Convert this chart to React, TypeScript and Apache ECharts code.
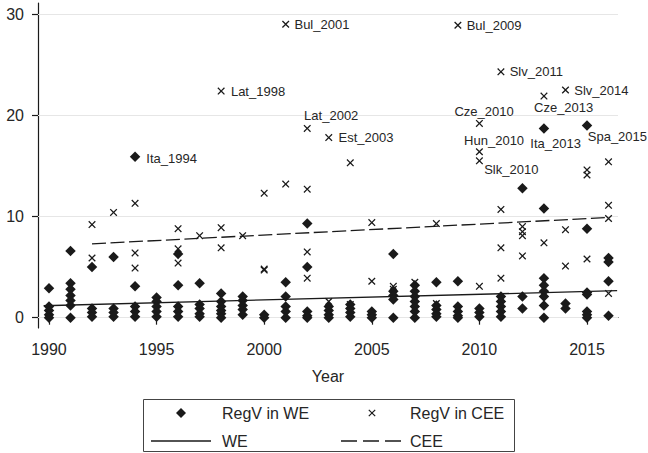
import React, { useEffect, useRef } from "react";
import * as echarts from "echarts";

const FONT = "'Liberation Sans', Arial, Helvetica, sans-serif";
const INK = "#1a1a1a";
const TXT = "#262626";

const years = [
  1990, 1991, 1992, 1993, 1994, 1995, 1996, 1997, 1998, 1999, 2000, 2001, 2002,
  2003, 2004, 2005, 2006, 2007, 2008, 2009, 2010, 2011, 2012, 2013, 2014, 2015, 2016,
];

// RegV in WE, unlabeled points, one list per year
const weValues: number[][] = [
  [2.9, 1.1, 0.7, 0.3, 0.0],
  [6.6, 3.4, 2.8, 2.2, 1.7, 1.2, 0.0],
  [5.0, 0.9, 0.5, 0.1],
  [6.0, 0.9, 0.5, 0.1],
  [3.1, 1.1, 0.6, 0.1],
  [2.0, 1.6, 1.1, 0.6, 0.1],
  [6.3, 3.2, 1.1, 0.6, 0.1],
  [3.4, 1.3, 0.9, 0.4, 0.1],
  [2.4, 1.6, 1.1, 0.7, 0.4, 0.0],
  [2.1, 1.7, 1.2, 0.8, 0.3],
  [0.3, 0.0],
  [3.5, 2.1, 1.1, 0.6, 0.0],
  [9.3, 5.0, 0.6, 0.2, 0.0],
  [1.1, 0.7, 0.3, 0.0],
  [1.3, 0.9, 0.5, 0.1],
  [0.6, 0.3, 0.0],
  [6.3, 2.6, 2.2, 1.8, 0.0],
  [3.2, 2.6, 2.1, 1.6, 1.1, 0.6, 0.0],
  [3.5, 1.2, 0.8, 0.4, 0.1],
  [3.6, 1.1, 0.6, 0.2, 0.0],
  [0.9, 0.5, 0.1],
  [2.1, 1.6, 1.1, 0.6, 0.1],
  [12.8, 2.1, 0.9],
  [10.8, 3.9, 3.2, 2.6, 2.1, 1.2, 0.0],
  [1.4, 0.9],
  [8.8, 2.5, 2.3, 0.6, 0.3, 0.0],
  [5.9, 5.5, 3.6, 0.2],
];

// RegV in CEE, unlabeled points, one list per year
const ceeValues: number[][] = [
  [],
  [],
  [9.2, 5.9],
  [10.4],
  [11.3, 6.4, 4.9],
  [],
  [8.8, 6.8, 5.4],
  [8.1],
  [8.9, 6.9],
  [8.1],
  [12.3, 4.8, 4.7],
  [13.2],
  [12.7, 6.5, 3.9],
  [1.6],
  [15.3, 1.3],
  [9.4, 3.6],
  [3.1, 2.8],
  [3.5],
  [9.3, 1.4],
  [],
  [3.1],
  [10.7, 6.9, 3.9],
  [9.0, 8.5, 8.1, 6.1],
  [7.4],
  [8.7, 5.1],
  [14.6, 14.1, 5.8],
  [15.4, 11.1, 9.8, 2.4],
];

// Labeled points
const weLabelNames = ["Ita_1994", "Ita_2013", "Spa_2015"];
const weLabelYears = [1994, 2013, 2015];
const weLabelValues = [15.9, 18.7, 19.0];

const ceeLabelNames = [
  "Lat_1998", "Bul_2001", "Lat_2002", "Est_2003", "Bul_2009", "Cze_2010",
  "Hun_2010", "Slk_2010", "Slv_2011", "Cze_2013", "Slv_2014",
];
const ceeLabelYears = [1998, 2001, 2002, 2003, 2009, 2010, 2010, 2010, 2011, 2013, 2014];
const ceeLabelValues = [22.4, 29.0, 18.7, 17.8, 28.9, 19.2, 16.4, 15.5, 24.3, 21.9, 22.5];

// Linear fits
const weFitYears = [1989.75, 2016.4];
const weFitValues = [1.18, 2.67];
const ceeFitYears = [1992, 2016];
const ceeFitValues = [7.3, 9.9];

const xTicks = [1990, 1995, 2000, 2005, 2010, 2015];
const yTicks = [0, 10, 20, 30];

const X_PATH =
  "path://M0,1.2 L1.2,0 L5,3.8 L8.8,0 L10,1.2 L6.2,5 L10,8.8 L8.8,10 L5,6.2 L1.2,10 L0,8.8 L3.8,5 Z";

// label placement per label name
const placement: Record<string, any> = {
  Ita_1994: { position: "right", distance: 6, offset: [0, 1.5] },
  Lat_1998: { position: "right", distance: 6, offset: [0, 0] },
  Bul_2001: { position: "right", distance: 5, offset: [0, 0.5] },
  Lat_2002: { position: "top", distance: 5, offset: [24, 2] },
  Est_2003: { position: "right", distance: 6, offset: [0, 0] },
  Bul_2009: { position: "right", distance: 5, offset: [0, 0] },
  Cze_2010: { position: "top", distance: 5, offset: [4.7, 3] },
  Hun_2010: { position: "top", distance: 5, offset: [14.7, 4] },
  Slk_2010: { position: "right", distance: 1, offset: [0, 8.6] },
  Slv_2011: { position: "right", distance: 5, offset: [0, 0] },
  Cze_2013: { position: "bottom", distance: 5, offset: [19.7, -3.6] },
  Ita_2013: { position: "bottom", distance: 5, offset: [11.7, -1.7] },
  Slv_2014: { position: "right", distance: 5, offset: [0, 0] },
  Spa_2015: { position: "right", distance: -4.5, offset: [0, 11] },
};

function buildPoints(values: number[][]) {
  const out: any[] = [];
  years.forEach((y, i) => {
    values[i].forEach((v) => out.push([y, v]));
  });
  return out;
}

function buildLabeled(names: string[], ys: number[], vs: number[]) {
  return names.map((n, i) => ({
    name: n,
    value: [ys[i], vs[i]],
    label: {
      show: true,
      formatter: n,
      fontSize: 13,
      fontFamily: FONT,
      color: TXT,
      ...placement[n],
    },
  }));
}

export default function App() {
  const ref = useRef<HTMLDivElement>(null);
  useEffect(() => {
    if (!ref.current) return;
    const chart = echarts.init(ref.current, null, { renderer: "svg" });
    const weData = [
      ...buildPoints(weValues),
      ...buildLabeled(weLabelNames, weLabelYears, weLabelValues),
    ];
    const ceeData = [
      ...buildPoints(ceeValues),
      ...buildLabeled(ceeLabelNames, ceeLabelYears, ceeLabelValues),
    ];
    chart.setOption({
      animation: false,
      backgroundColor: "#ffffff",
      textStyle: { fontFamily: FONT },
      grid: { left: 38, right: 30, top: 3, bottom: 125, containLabel: false },
      xAxis: {
        type: "value",
        min: 1989.49,
        max: 2016.44,
        name: "Year",
        nameLocation: "middle",
        nameGap: 40,
        nameTextStyle: { fontSize: 16, color: TXT, fontFamily: FONT },
        axisLine: { show: true, lineStyle: { color: INK, width: 1.2 } },
        axisTick: { show: true, length: 7, customValues: xTicks, lineStyle: { color: INK, width: 1.2 } },
        axisLabel: {
          customValues: xTicks,
          formatter: (v: number) => String(Math.round(v)),
          margin: 13,
          fontSize: 16,
          color: TXT,
          fontFamily: FONT,
        },
        splitLine: { show: false },
      },
      yAxis: {
        type: "value",
        min: -1.02,
        max: 31.1,
        axisLine: { show: true, lineStyle: { color: INK, width: 1.2 } },
        axisTick: { show: true, length: 6, customValues: yTicks, lineStyle: { color: INK, width: 1.2 } },
        axisLabel: {
          customValues: yTicks,
          formatter: (v: number) => String(Math.round(v)),
          margin: 14,
          fontSize: 16,
          color: TXT,
          fontFamily: FONT,
        },
        splitLine: { show: false },
      },
      series: [
        {
          name: "RegV in WE",
          type: "scatter",
          symbol: "diamond",
          symbolSize: [10.5, 10.5],
          itemStyle: { color: INK, opacity: 1 },
          data: weData,
          z: 3,
          markLine: {
            silent: true,
            z: 1,
            symbol: ["none", "none"],
            label: { show: false },
            lineStyle: { color: "#e6e6e6", width: 1, type: "solid" },
            data: yTicks.map((v) => ({ yAxis: v })),
          },
        },
        {
          name: "RegV in CEE",
          type: "scatter",
          symbol: X_PATH,
          symbolSize: 7.5,
          itemStyle: { color: INK, opacity: 1 },
          data: ceeData,
          z: 3,
        },
        {
          name: "WE",
          type: "line",
          showSymbol: false,
          symbol: "none",
          lineStyle: { color: INK, width: 1.3, type: "solid" },
          data: weFitYears.map((y, i) => [y, weFitValues[i]]),
          z: 4,
        },
        {
          name: "CEE",
          type: "line",
          showSymbol: false,
          symbol: "none",
          lineStyle: { color: INK, width: 1.3, type: [14, 4.5] },
          data: ceeFitYears.map((y, i) => [y, ceeFitValues[i]]),
          z: 4,
        },
      ],
      graphic: [
        {
          type: "rect",
          shape: { x: 143.5, y: 399.5, width: 371, height: 52 },
          style: { fill: "none", stroke: "#444", lineWidth: 1 },
        },
        {
          type: "polygon",
          shape: { points: [[181, 408], [186, 413], [181, 418], [176, 413]] },
          style: { fill: INK },
        },
        {
          type: "text",
          x: 222,
          y: 413,
          style: { text: "RegV in WE", fontSize: 16, fill: TXT, fontFamily: FONT, verticalAlign: "middle" },
        },
        {
          type: "line",
          shape: { x1: 368.8, y1: 409.8, x2: 375.2, y2: 416.2 },
          style: { stroke: INK, lineWidth: 1.2 },
        },
        {
          type: "line",
          shape: { x1: 368.8, y1: 416.2, x2: 375.2, y2: 409.8 },
          style: { stroke: INK, lineWidth: 1.2 },
        },
        {
          type: "text",
          x: 410,
          y: 413,
          style: { text: "RegV in CEE", fontSize: 16, fill: TXT, fontFamily: FONT, verticalAlign: "middle" },
        },
        {
          type: "line",
          shape: { x1: 151, y1: 441, x2: 211, y2: 441 },
          style: { stroke: INK, lineWidth: 1.3 },
        },
        {
          type: "text",
          x: 222,
          y: 441,
          style: { text: "WE", fontSize: 16, fill: TXT, fontFamily: FONT, verticalAlign: "middle" },
        },
        {
          type: "line",
          shape: { x1: 341, y1: 441, x2: 401, y2: 441 },
          style: { stroke: INK, lineWidth: 1.3, lineDash: [16, 6] },
        },
        {
          type: "text",
          x: 410,
          y: 441,
          style: { text: "CEE", fontSize: 16, fill: TXT, fontFamily: FONT, verticalAlign: "middle" },
        },
      ],
    });
    return () => chart.dispose();
  }, []);
  return (
    <div
      ref={ref}
      style={{ position: "fixed", left: 0, top: 0, width: 648, height: 453, background: "#fff" }}
    />
  );
}
